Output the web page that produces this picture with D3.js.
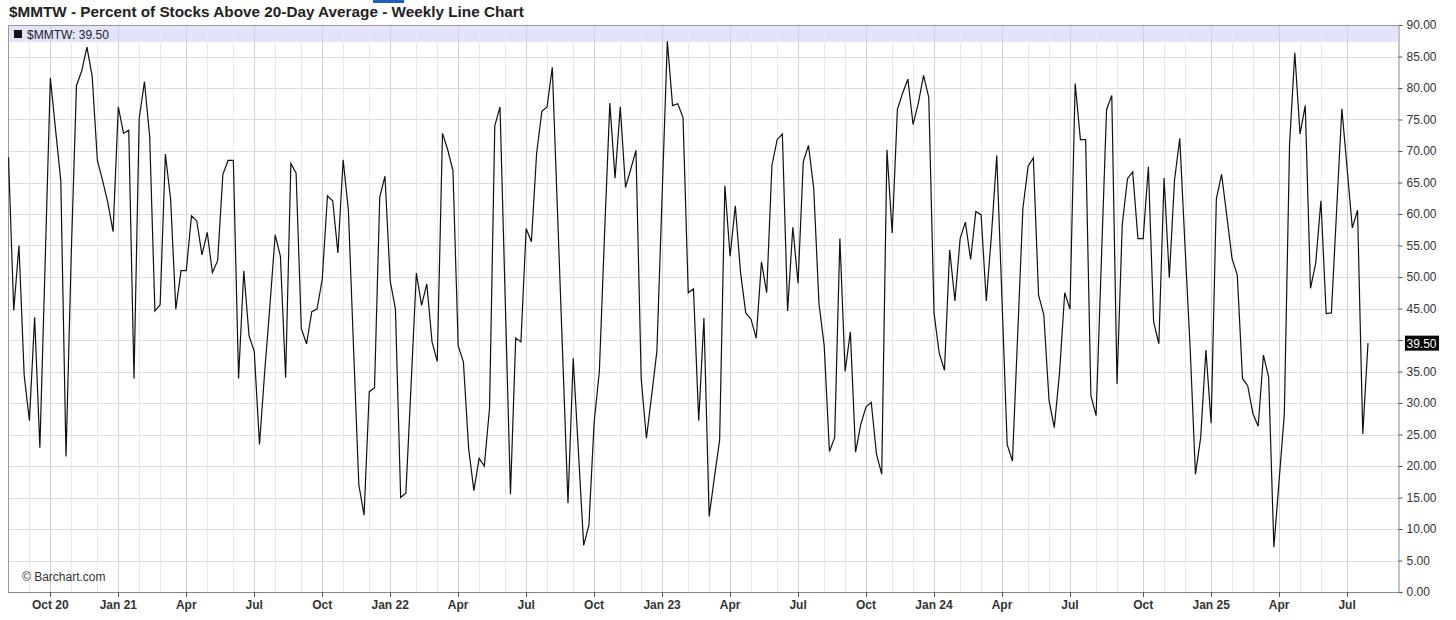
<!DOCTYPE html>
<html><head><meta charset="utf-8">
<script src="https://cdn.jsdelivr.net/npm/d3@7"></script>
<style>
body{margin:0;background:#fff}
svg{display:block}
text{font-family:"Liberation Sans",Arial,sans-serif}
</style>
</head><body>
<svg id="c" width="1456" height="620"></svg>
<script>
// ---- data ----
const symbol = "$MMTW";
const chartTitle = "$MMTW - Percent of Stocks Above 20-Day Average - Weekly Line Chart";
const firstWeek = "2020-08-03"; // weekly bars (Monday dated)
const values = [
 69.0,44.7,55.0,34.4,27.2,43.6,22.9,52.0,81.6,73.4,65.3,21.5,53.6,80.4,82.7,86.5,81.9,68.5,65.3,61.8,57.2,77.0,72.8,73.3,33.9,75.2,81.0,
 72.3,44.6,45.6,69.5,62.4,44.9,51.0,51.0,59.7,58.9,53.5,57.1,50.7,52.6,66.3,68.5,68.5,33.9,51.0,40.7,38.2,23.4,35.0,45.5,56.7,53.3,34.0,
 68.0,66.5,41.8,39.4,44.5,44.9,49.6,62.9,62.1,53.8,68.6,60.6,38.5,17.0,12.2,31.8,32.4,62.7,66.0,49.4,44.9,15.0,15.7,33.0,50.6,45.5,
 48.9,39.7,36.6,72.8,70.2,66.9,39.1,36.5,22.8,16.1,21.2,20.0,29.2,74.0,77.0,46.3,15.5,40.3,39.7,57.7,55.6,69.6,76.3,77.0,83.3,
 60.2,37.2,14.1,37.1,22.2,7.4,10.6,26.9,35.0,57.0,77.6,65.7,77.0,64.2,67.1,70.1,33.9,24.4,31.2,38.2,62.9,87.4,77.2,77.5,75.3,47.5,48.1,27.2,43.5,
 12.0,18.2,24.1,64.5,53.3,61.3,50.7,44.3,43.3,40.3,52.4,47.5,67.7,71.8,72.7,44.6,57.9,49.0,68.3,70.9,64.0,45.8,39.1,22.3,24.5,56.1,35.0,
 41.3,22.2,26.6,29.4,30.1,21.9,18.7,70.2,57.0,76.6,79.2,81.4,74.2,77.6,82.0,78.5,44.3,37.9,35.2,54.3,46.2,56.1,58.7,52.8,60.4,59.9,46.2,
 56.8,69.3,46.4,23.4,20.8,40.8,60.9,67.6,68.9,47.1,44.0,30.4,26.1,34.7,47.5,44.9,80.7,71.8,71.8,31.2,28.0,52.4,76.6,78.8,33.0,58.3,
 65.6,66.7,56.1,56.1,67.5,42.9,39.4,65.7,49.9,65.4,72.0,55.0,38.5,18.7,24.5,38.4,26.8,62.4,66.3,59.7,52.9,50.3,33.9,32.7,28.3,26.3,37.6,
 34.1,7.1,17.7,28.3,71.1,85.6,72.7,77.2,48.2,52.2,62.1,44.2,44.3,60.6,76.7,67.3,57.8,60.6,25.1,39.5
];
const yTicks = [0,5,10,15,20,25,30,35,40,45,50,55,60,65,70,75,80,85,90];
const lastValue = 39.50;
const monthNames = ["Jan","Feb","Mar","Apr","May","Jun","Jul","Aug","Sep","Oct","Nov","Dec"];

// ---- layout ----
const L = 8, R = 1398, T = 25, B = 592, lastX = 1368;
const svg = d3.select("#c");

const start = d3.timeParse("%Y-%m-%d")(firstWeek);
const dates = values.map((v,i) => d3.timeMonday.offset(start, i));
const data = values.map((v,i) => ({d: dates[i], v}));

const x = d3.scaleTime().domain([dates[0], dates[dates.length-1]]).range([8.5, lastX]);
const y = d3.scaleLinear().domain([0, 90]).range([B, T]);

// month boundaries: bar just before the month begins
const months = d3.timeMonth.range(d3.timeMonth.ceil(dates[0]), dates[dates.length-1]);
const mPos = months.map(m => {
  const k = d3.bisectLeft(dates, m) - 1;
  return {m, k, xp: x(dates[Math.max(k,0)])};
}).filter(o => o.k >= 0);

// background band (legend)
svg.append("rect").attr("x", L).attr("y", T+1).attr("width", R-L).attr("height", 16).attr("fill", "#e3e3fb");

// horizontal grid
svg.append("g").selectAll("line").data(yTicks.filter(t => t > 0 && t < 90)).join("line")
  .attr("x1", L).attr("x2", R).attr("y1", d => Math.round(y(d))+0.5).attr("y2", d => Math.round(y(d))+0.5)
  .attr("stroke", "#dedede").attr("stroke-width", 1);

// vertical grid (monthly, quarterly darker)
svg.append("g").selectAll("line").data(mPos).join("line")
  .attr("x1", d => Math.round(d.xp)+0.5).attr("x2", d => Math.round(d.xp)+0.5)
  .attr("y1", T).attr("y2", B)
  .attr("stroke", d => d.m.getMonth() % 3 === 0 ? "#d2d2d2" : "#e9e9e9").attr("stroke-width", 1);

// frame
svg.append("line").attr("x1", L).attr("x2", R).attr("y1", T+0.5).attr("y2", T+0.5).attr("stroke", "#9a9a9a");
svg.append("line").attr("x1", L+0.5).attr("x2", L+0.5).attr("y1", T).attr("y2", B).attr("stroke", "#9a9a9a");
svg.append("line").attr("x1", L).attr("x2", R).attr("y1", B+0.5).attr("y2", B+0.5).attr("stroke", "#8a8a8a");

// line
const line = d3.line().x(d => x(d.d)).y(d => y(d.v));
svg.append("path").datum(data).attr("d", line).attr("fill", "none")
  .attr("stroke", "#111").attr("stroke-width", 1.2).attr("stroke-linejoin", "miter");

// right axis
const yAxis = d3.axisRight(y).tickValues(yTicks)
  .tickFormat(d => Math.abs(y(d) - y(lastValue)) < 12 ? "" : d3.format(".2f")(d))
  .tickSize(4).tickPadding(4);
const ya = svg.append("g").attr("transform", `translate(${R+0.5},0)`).call(yAxis);
ya.select(".domain").attr("stroke", "#8a8a8a");
ya.selectAll(".tick line").attr("stroke", "#555");
ya.selectAll(".tick text").attr("fill", "#333").style("font-size", "12px").attr("font-family", '"Liberation Sans",Arial,sans-serif');

// last value marker
const lv = svg.append("g").attr("transform", `translate(${R+7},${y(lastValue)})`);
lv.append("rect").attr("x", 0).attr("y", -7.5).attr("width", 34).attr("height", 15).attr("fill", "#000");
lv.append("text").attr("x", 1.5).attr("y", 4.5).attr("fill", "#fff").style("font-size", "12px").text(d3.format(".2f")(lastValue));

// bottom axis (quarterly)
const qPos = mPos.filter(d => d.m.getMonth() % 3 === 0);
const xa = svg.append("g");
xa.selectAll("line").data(qPos).join("line")
  .attr("x1", d => Math.round(d.xp)+0.5).attr("x2", d => Math.round(d.xp)+0.5)
  .attr("y1", B).attr("y2", B+5).attr("stroke", "#555");
xa.selectAll("text").data(qPos).join("text")
  .attr("x", d => d.xp).attr("y", 609).attr("text-anchor", "middle")
  .attr("fill", "#333").style("font-size", "12px").style("font-weight", "bold")
  .text((d,i) => (d.m.getMonth() === 0 || i === 0) ? monthNames[d.m.getMonth()] + " " + d3.timeFormat("%y")(d.m) : monthNames[d.m.getMonth()]);

// title
svg.append("rect").attr("x", 373).attr("y", 0).attr("width", 31).attr("height", 3).attr("fill", "#1f5fbf");
svg.append("text").attr("x", 9).attr("y", 17).attr("fill", "#222")
  .style("font-size", "15.3px").style("font-weight", "bold").text(chartTitle);

// legend
svg.append("rect").attr("x", 14).attr("y", 30).attr("width", 8).attr("height", 8).attr("fill", "#111");
svg.append("text").attr("x", 27).attr("y", 38.5).attr("fill", "#222").style("font-size", "12px")
  .text(`${symbol}: ${d3.format(".2f")(lastValue)}`);

// watermark
svg.append("text").attr("x", 22).attr("y", 581).attr("fill", "#333").style("font-size", "12px").text("© Barchart.com");
</script>
</body></html>
